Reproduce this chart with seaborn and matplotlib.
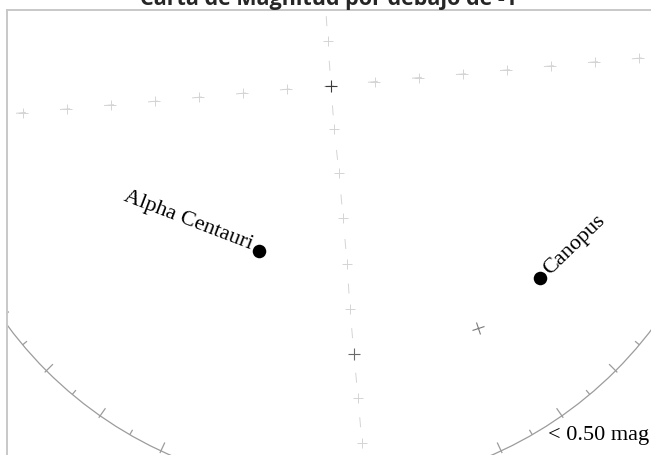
import numpy as np
import matplotlib
matplotlib.use("Agg")
import matplotlib.pyplot as plt
from matplotlib.patches import Circle
from matplotlib.collections import LineCollection
from matplotlib.markers import MarkerStyle
from matplotlib.transforms import Affine2D
import seaborn as sns

# chart coordinates: zenith at (0, 0), horizon radius = 1
star_names = ["Alpha Centauri", "Canopus"]
star_x = [-0.179, 0.519]
star_y = [-0.409, -0.478]

# grid line through the zenith (nearly horizontal), '+' marks
row_x = [-0.874, -0.765, -0.656, -0.547, -0.437, -0.328, -0.219, -0.109, 0.0,
         0.109, 0.219, 0.328, 0.437, 0.547, 0.656, 0.765, 0.874]
row_y = [-0.077, -0.066, -0.057, -0.047, -0.038, -0.028, -0.018, -0.008, 0.0,
         0.011, 0.021, 0.030, 0.040, 0.050, 0.060, 0.069, 0.079]

# grid line through the zenith (nearly vertical)
col_x = [-0.015, -0.008, 0.0, 0.008, 0.020, 0.030, 0.040, 0.047, 0.057, 0.067, 0.077, 0.087]
col_y = [0.222, 0.113, 0.0, -0.108, -0.217, -0.329, -0.441, -0.553, -0.665, -0.774, -0.886, -0.997]

# darker reference crosses (zenith, pole, other)
ref_x = [0.0, 0.057, 0.365]
ref_y = [0.0, -0.665, -0.600]

title = "Carta de Magnitud por debajo de -1"
limit_label = "< 0.50 mag"

sns.set_theme(style="white")
plt.rcParams["lines.scale_dashes"] = False
serif = ["Liberation Serif", "DejaVu Serif"]

fig = plt.figure(figsize=(6.51, 4.56), dpi=100)
ax = fig.add_axes([7 / 651, 0, 644 / 651, 445 / 456])
ax.set_xlim(-0.805, 0.795)
ax.set_ylim(-0.9165, 0.1888)
ax.set_xticks([])
ax.set_yticks([])
for side in ["right", "bottom"]:
    ax.spines[side].set_visible(False)
for side in ["top", "left"]:
    ax.spines[side].set_color("#c8c8c8")
    ax.spines[side].set_linewidth(1.4)

# coordinate grid
grid_color = "#d4d4d4"
ax.plot(row_x, row_y, color=grid_color, lw=0.7, linestyle=(19.5, (7.2, 24.6)), zorder=1)
ax.plot(col_x, col_y, color=grid_color, lw=0.7, linestyle=(19.8, (7.2, 25.0)), zorder=1)
ax.plot(row_x, row_y, ls="none", marker="+", ms=7, mew=0.7, color=grid_color, zorder=1)
ax.plot(col_x, col_y, ls="none", marker="+", ms=7, mew=0.7, color=grid_color, zorder=1)

ref_colors = ["#3a3a3a", "#6a6a6a", "#7a7a7a"]
ref_rot = [0, 0, 22]
for x, y, c, r in zip(ref_x, ref_y, ref_colors, ref_rot):
    m = MarkerStyle("+", transform=Affine2D().rotate_deg(r))
    ax.plot(x, y, ls="none", marker=m, ms=9, mew=0.8, color=c, zorder=2)

# horizon with azimuth ticks
horizon_color = "#9c9c9c"
ax.add_patch(Circle((0, 0), 1.0, fill=False, ec=horizon_color, lw=0.9, zorder=2))
segs = []
for a in np.arange(0, 360, 5):
    r0, r1 = (0.977, 1.006) if a % 10 == 5 else (0.986, 1.0)
    t = np.deg2rad(a)
    segs.append([(r0 * np.cos(t), r0 * np.sin(t)), (r1 * np.cos(t), r1 * np.sin(t))])
ax.add_collection(LineCollection(segs, colors=horizon_color, linewidths=0.9, zorder=2))

# stars
sns.scatterplot(x=star_x, y=star_y, color="black", s=95, linewidth=0, ax=ax, zorder=3, legend=False)
ax.annotate(star_names[0], (star_x[0], star_y[0]), xytext=(-6.1, 1.8), textcoords="offset points",
            rotation=-21, rotation_mode="anchor", ha="right", va="baseline",
            fontsize=16, family=serif, color="black")
ax.annotate(star_names[1], (star_x[1], star_y[1]), xytext=(3.5, 6.5), textcoords="offset points",
            rotation=44, rotation_mode="anchor", ha="left", va="center_baseline",
            fontsize=16, family=serif, color="black")

ax.text(0.539, -0.878, limit_label, ha="left", va="baseline", fontsize=16, family=serif, color="black")

ax.set_title(title, fontsize=15.5, fontweight="bold", family=["Open Sans", "DejaVu Sans"], pad=4)

fig.savefig("out.png", dpi=100)
